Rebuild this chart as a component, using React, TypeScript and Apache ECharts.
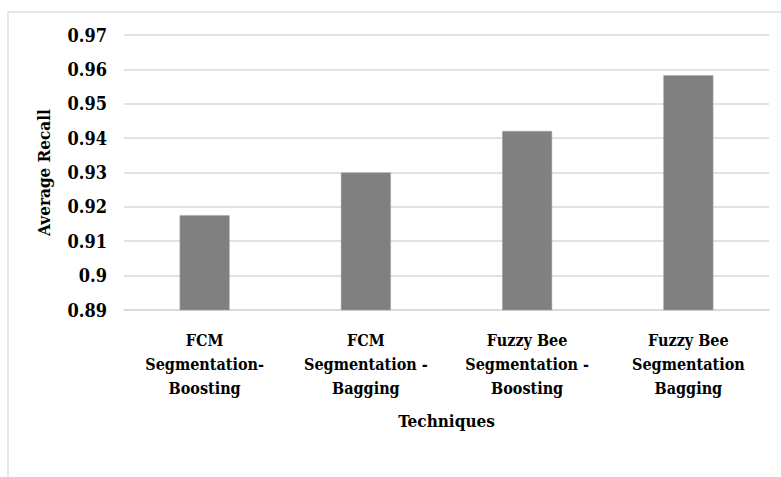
import React, { useEffect, useRef } from "react";
import * as echarts from "echarts";

const categories = [
  "FCM\nSegmentation-\nBoosting",
  "FCM\nSegmentation -\nBagging",
  "Fuzzy Bee\nSegmentation -\nBoosting",
  "Fuzzy Bee\nSegmentation\nBagging",
];
const recallValues = [0.9176, 0.93, 0.9421, 0.9583];
const yMin = 0.89;
const yMax = 0.97;
const yInterval = 0.01;

const FONT = "DejaVu Serif Condensed";

export default function App() {
  const ref = useRef<HTMLDivElement>(null);
  useEffect(() => {
    if (!ref.current) return;
    const chart = echarts.init(ref.current, null, { renderer: "svg" });
    chart.setOption({
      animation: false,
      backgroundColor: "#ffffff",
      textStyle: { fontFamily: FONT },
      graphic: [
        {
          type: "rect",
          shape: { x: 8, y: 12, width: 900, height: 600 },
          style: { fill: "none", stroke: "#e0e0e0", lineWidth: 1.5 },
          silent: true,
        },
      ],
      grid: { left: 124, right: 12, top: 35, bottom: 167 },
      xAxis: {
        type: "category",
        data: categories,
        name: "Techniques",
        nameLocation: "middle",
        nameGap: 102,
        nameTextStyle: {
          fontFamily: FONT,
          fontWeight: "bold",
          fontSize: 17,
          color: "#000",
        },
        axisLine: { lineStyle: { color: "#d9d9d9", width: 1.5 } },
        axisTick: { show: false },
        axisLabel: {
          interval: 0,
          margin: 18,
          fontFamily: FONT,
          fontWeight: "bold",
          fontSize: 16,
          lineHeight: 24,
          color: "#000",
        },
      },
      yAxis: {
        type: "value",
        min: yMin,
        max: yMax,
        interval: yInterval,
        name: "Average Recall",
        nameLocation: "middle",
        nameGap: 72,
        nameTextStyle: {
          fontFamily: FONT,
          fontWeight: "bold",
          fontSize: 17,
          color: "#000",
        },
        axisLine: { show: false },
        axisTick: { show: false },
        axisLabel: {
          margin: 17,
          fontFamily: FONT,
          fontWeight: "bold",
          fontSize: 18,
          color: "#000",
          formatter: (v: number) => String(parseFloat(v.toFixed(2))),
        },
        splitLine: { lineStyle: { color: "#d9d9d9", width: 1.5 } },
      },
      series: [
        {
          type: "bar",
          data: recallValues,
          barWidth: "31%",
          itemStyle: { color: "#808080", borderColor: "#a6a6a6", borderWidth: 0.5 },
        },
      ],
    });
    return () => chart.dispose();
  }, []);
  return (
    <div
      ref={ref}
      style={{ position: "absolute", left: 0, top: 0, width: 781, height: 477 }}
    />
  );
}
